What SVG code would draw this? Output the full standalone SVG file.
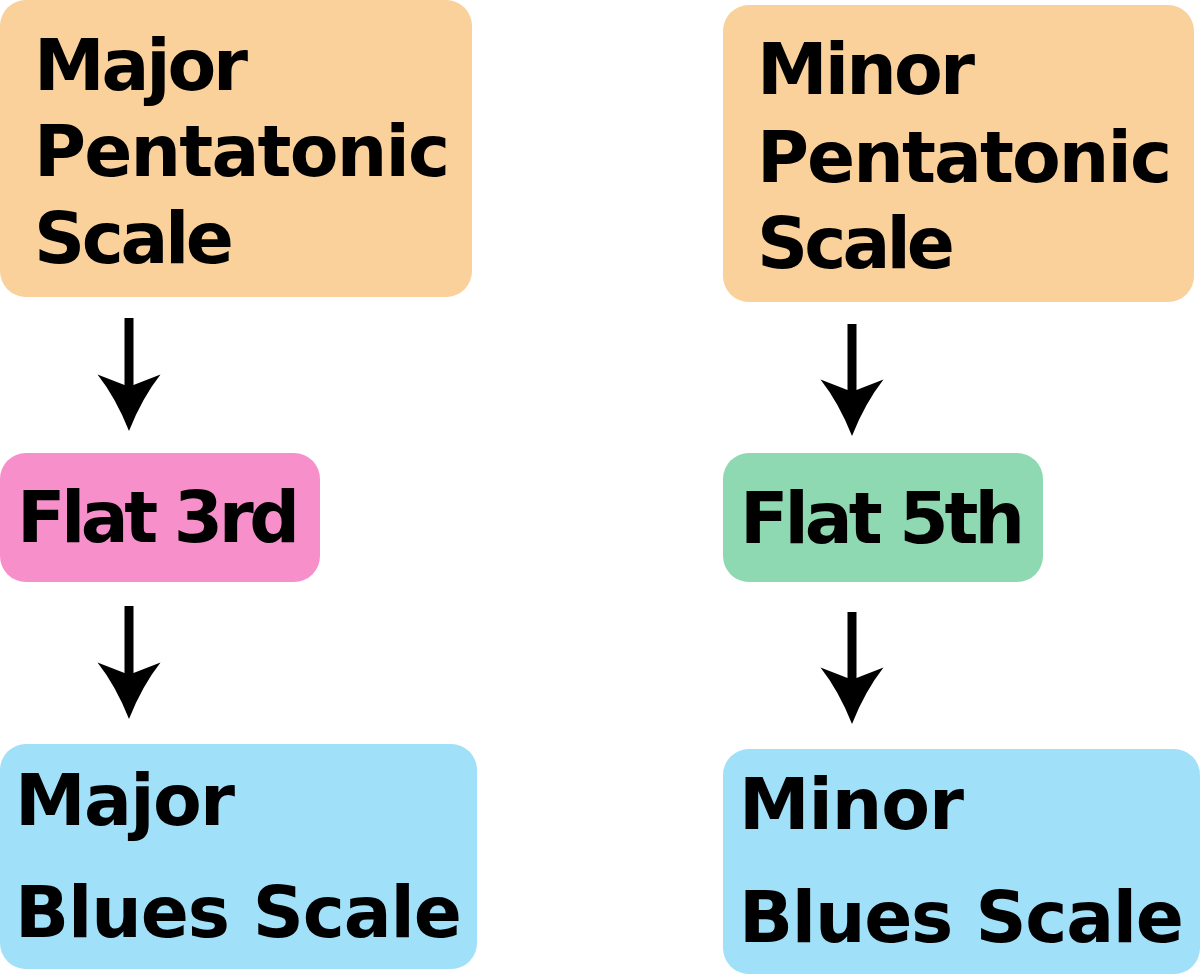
<svg xmlns="http://www.w3.org/2000/svg" width="1200" height="975" viewBox="0 0 1200 975">
<defs>
<style>
.t{font-family:"DejaVu Sans","Liberation Sans",sans-serif;font-weight:bold;font-size:71px;fill:#000}
.scale{fill:#FAD09B}
.flat3{fill:#F78FCB}
.flat5{fill:#8ED8B2}
.blues{fill:#A0E0F8}
.arr{fill:#000}
</style>
<path id="ah" d="M-4.5,-46 L-31.5,-56.5 Q-13,-33 0,0 Q13,-33 31.5,-56.5 L4.5,-46 Z"/>
</defs>
<rect width="1200" height="975" fill="#fff"/>
<g id="major-pentatonic">
<rect class="scale" x="0" y="0" width="472" height="297" rx="26"/>
<text class="t" x="34" y="90" textLength="214">Major</text>
<text class="t" x="34" y="176" textLength="416">Pentatonic</text>
<text class="t" x="34" y="263" textLength="200">Scale</text>
</g>
<g id="minor-pentatonic">
<rect class="scale" x="723" y="5" width="471" height="297" rx="26"/>
<text class="t" x="757" y="94" textLength="218">Minor</text>
<text class="t" x="757" y="182" textLength="415">Pentatonic</text>
<text class="t" x="757" y="268" textLength="198">Scale</text>
</g>
<g id="flat-3rd">
<rect class="flat3" x="0" y="453" width="320" height="129" rx="26"/>
<text class="t" x="17" y="542" textLength="283">Flat 3rd</text>
</g>
<g id="flat-5th">
<rect class="flat5" x="723" y="453" width="320" height="129" rx="26"/>
<text class="t" x="740" y="543" textLength="285">Flat 5th</text>
</g>
<g id="major-blues">
<rect class="blues" x="0" y="744" width="477" height="225" rx="26"/>
<text class="t" x="15" y="825" textLength="220">Major</text>
<text class="t" x="15" y="937" textLength="447">Blues Scale</text>
</g>
<g id="minor-blues">
<rect class="blues" x="723" y="749" width="477" height="225" rx="26"/>
<text class="t" x="739" y="829" textLength="225">Minor</text>
<text class="t" x="739" y="942" textLength="445">Blues Scale</text>
</g>
<g id="connectors">
<g class="arr">
<rect x="124.5" y="318" width="9" height="68"/>
<use href="#ah" x="129" y="431"/>
<rect x="124.5" y="606" width="9" height="68"/>
<use href="#ah" x="129" y="719"/>
<rect x="847.5" y="324" width="9" height="67"/>
<use href="#ah" x="852" y="436"/>
<rect x="847.5" y="612" width="9" height="67"/>
<use href="#ah" x="852" y="724"/>
</g>
</g>
</svg>
